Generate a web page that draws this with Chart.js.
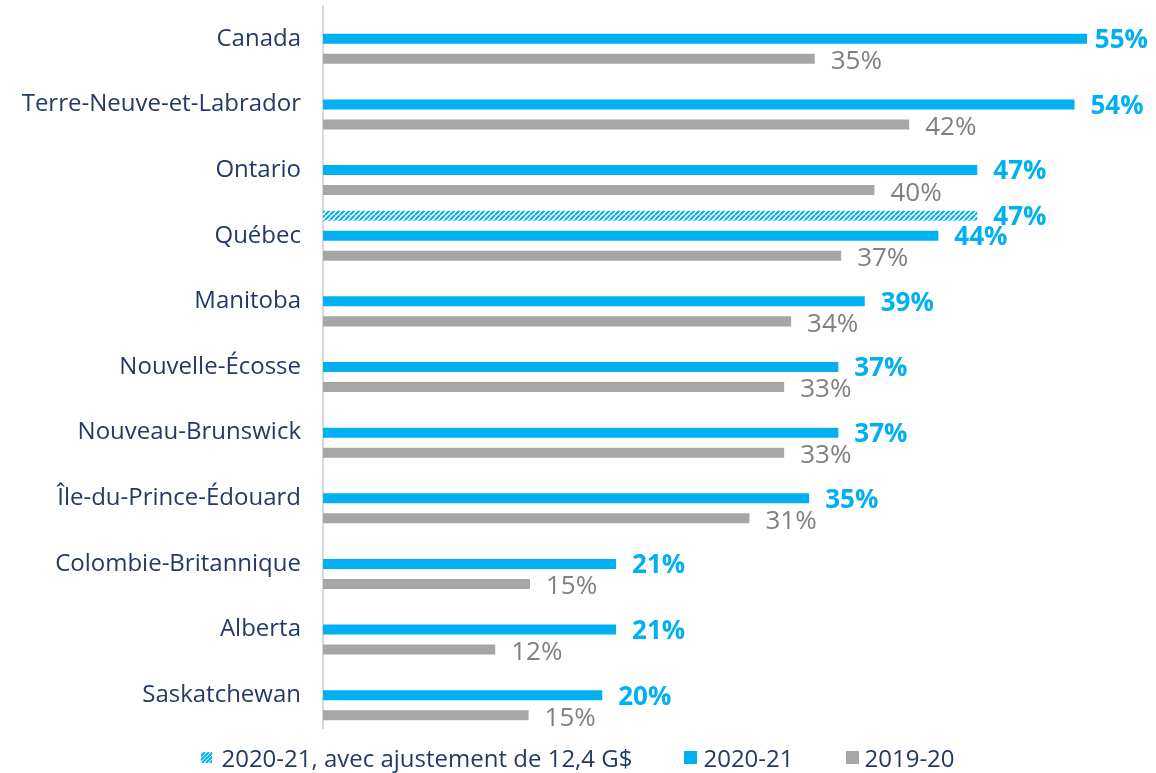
<!DOCTYPE html>
<html>
<head>
<meta charset="utf-8">
<script src="https://cdn.jsdelivr.net/npm/chart.js@4"></script>
<style>
  html, body { margin: 0; padding: 0; background: #fff; }
  #wrap { width: 1156px; height: 773px; position: relative; }
  #legend { position: absolute; left: 0; right: 0; top: 742px; height: 31px;
            display: flex; justify-content: center; align-items: center;
            font-family: 'Open Sans', sans-serif; font-size: 24px; color: #243a64; }
  #legend .item { display: flex; align-items: center; margin: 0 26px; }
  #legend canvas { margin-right: 6px; }
</style>
</head>
<body>
<div id="wrap">
  <canvas id="chart"></canvas>
  <div id="legend"></div>
</div>
<script>
// provinces, top to bottom
const provinces = ['Canada', 'Terre-Neuve-et-Labrador', 'Ontario', 'Québec', 'Manitoba',
  'Nouvelle-Écosse', 'Nouveau-Brunswick', 'Île-du-Prince-Édouard', 'Colombie-Britannique',
  'Alberta', 'Saskatchewan'];

// only Québec has the adjusted figure
const adjusted2021 = [null, null, null, 47.1, null, null, null, null, null, null, null];
const values2021 = [55.0, 54.1, 47.1, 44.3, 39.0, 37.1, 37.1, 35.0, 21.1, 21.1, 20.1];
const values1920 = [35.4, 42.2, 39.7, 37.3, 33.7, 33.2, 33.2, 30.7, 14.9, 12.4, 14.8];

const seriesNames = ['2020-21, avec ajustement de 12,4 G$', '2020-21', '2019-20'];

const BLUE = '#00b0f0';
const GREY = '#a6a6a6';
const NAVY = '#243a64';
const FONT = "'Open Sans', sans-serif";

// hatch pattern for the adjusted bar
function drawHatch(g, w, h, step) {
    g.fillStyle = '#fff';
    g.fillRect(0, 0, w, h);
    g.strokeStyle = BLUE;
    g.lineWidth = 2;
    g.beginPath();
    for (let k = -h; k < w + h; k += step) {
        g.moveTo(k, h);
        g.lineTo(k + h, 0);
    }
    g.stroke();
}
function makeHatch() {
    const c = document.createElement('canvas');
    c.width = 5; c.height = 5;
    const g = c.getContext('2d');
    drawHatch(g, 5, 5, 5);
    return g.createPattern(c, 'repeat');
}
const hatch = makeHatch();

// value labels at the end of each bar
const valueLabels = {
    id: 'valueLabels',
    afterDatasetsDraw(chart) {
        const ctx = chart.ctx;
        ctx.save();
        ctx.textBaseline = 'middle';
        ctx.textAlign = 'left';
        chart.data.datasets.forEach((ds, i) => {
            const meta = chart.getDatasetMeta(i);
            meta.data.forEach((bar, j) => {
                const v = ds.data[j];
                if (v === null) return;
                if (i === 2) {
                    ctx.font = '26px ' + FONT;
                    ctx.fillStyle = '#808080';
                } else {
                    ctx.font = 'bold 26px ' + FONT;
                    ctx.fillStyle = BLUE;
                }
                const txt = Math.round(v) + '%';
                let x = bar.x + 16;
                const w = ctx.measureText(txt).width;
                if (x + w > chart.width - 8) x = chart.width - 8 - w;
                ctx.fillText(txt, x, bar.y + (i === 2 ? 3 : 2));
            });
        });
        ctx.restore();
    }
};

// html legend built from the datasets
const htmlLegend = {
    id: 'htmlLegend',
    afterUpdate(chart) {
        const box = document.getElementById('legend');
        box.innerHTML = '';
        chart.data.datasets.forEach((ds, i) => {
            const item = document.createElement('div');
            item.className = 'item';
            const sw = document.createElement('canvas');
            sw.width = i === 0 ? 11 : 13;
            sw.height = i === 0 ? 11 : 13;
            const g = sw.getContext('2d');
            if (i === 0) {
                drawHatch(g, sw.width, sw.height, 4);
                sw.style.marginRight = '9px';
            } else {
                g.fillStyle = ds.backgroundColor;
                g.fillRect(0, 0, sw.width, sw.height);
            }
            const txt = document.createElement('span');
            txt.textContent = ds.label;
            item.appendChild(sw);
            item.appendChild(txt);
            box.appendChild(item);
        });
    }
};

new Chart(document.getElementById('chart'), {
    type: 'bar',
    data: {
        labels: provinces,
        datasets: [
            { label: seriesNames[0], data: adjusted2021, backgroundColor: hatch },
            { label: seriesNames[1], data: values2021, backgroundColor: BLUE },
            { label: seriesNames[2], data: values1920, backgroundColor: GREY }
        ]
    },
    options: {
        indexAxis: 'y',
        responsive: true,
        maintainAspectRatio: false,
        animation: false,
        datasets: {
            bar: { categoryPercentage: 0.9146, barPercentage: 0.5, skipNull: false }
        },
        layout: { padding: { top: 6, right: 69, left: 0, bottom: 45 } },
        scales: {
            x: {
                min: 0,
                max: 55,
                display: false
            },
            y: {
                grid: { display: false, drawTicks: false },
                border: { display: true, color: '#d9d9d9', width: 2 },
                ticks: {
                    color: NAVY,
                    font: { family: FONT, size: 24 },
                    padding: 22
                },
                afterFit(scale) {
                    scale.width = 323;
                    scale.paddingTop = 0;
                    scale.paddingBottom = 0;
                }
            }
        },
        plugins: {
            legend: { display: false },
            tooltip: { enabled: false }
        }
    },
    plugins: [valueLabels, htmlLegend]
});
</script>
</body>
</html>
